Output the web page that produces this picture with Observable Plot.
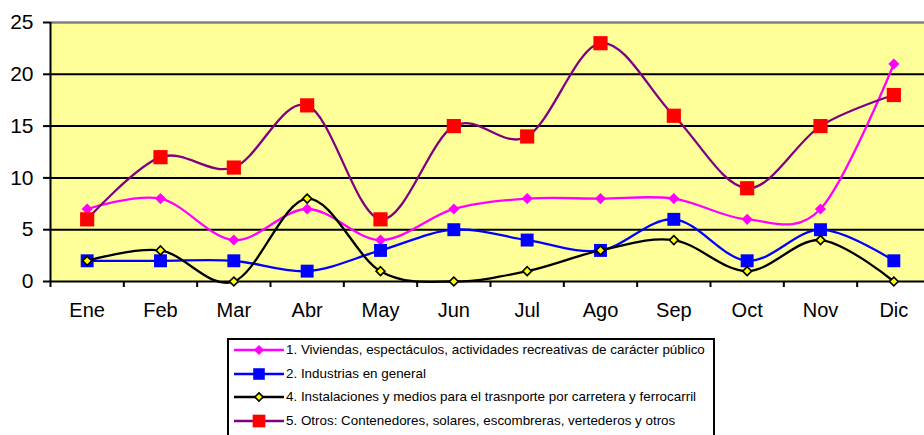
<!DOCTYPE html>
<html>
<head>
<meta charset="utf-8">
<script src="https://cdn.jsdelivr.net/npm/d3@7"></script>
<script src="https://cdn.jsdelivr.net/npm/@observablehq/plot@0.6"></script>
<style>
  html, body { margin: 0; padding: 0; background: #fff; overflow: hidden; }
  body { width: 924px; height: 435px; font-family: "Liberation Sans", Arial, sans-serif; }
  #chart svg { display: block; }
  #legend {
    position: absolute; left: 227px; top: 338px; width: 488px; height: 110px;
    border: 2px solid #000; box-sizing: border-box; background: #fff;
  }
  .row { position: absolute; left: 4px; height: 20px; display: flex; align-items: center; color: #000; white-space: nowrap; }
  .row svg { display: block; margin-right: 1px; flex: none; }
  .row span { font-family: "Liberation Sans", Arial, sans-serif; font-size: 13.4px; line-height: 20px; }
</style>
</head>
<body>
<div id="chart"></div>
<div id="legend"></div>
<script>
const months = ["Ene","Feb","Mar","Abr","May","Jun","Jul","Ago","Sep","Oct","Nov","Dic"];
const seriesNames = [
  "1. Viviendas, espectáculos, actividades recreativas de carácter público",
  "2. Industrias en general",
  "4. Instalaciones y medios para el trasnporte por carretera y ferrocarril",
  "5. Otros: Contenedores, solares, escombreras, vertederos y otros"
];
const viviendas    = [7, 8, 4, 7, 4, 7, 8, 8, 8, 6, 7, 21];
const industrias   = [2, 2, 2, 1, 3, 5, 4, 3, 6, 2, 5, 2];
const instalaciones= [2, 3, 0, 8, 1, 0, 1, 3, 4, 1, 4, 0];
const otros        = [6, 12, 11, 17, 6, 15, 14, 23, 16, 9, 15, 18];
const yTicks = [0, 5, 10, 15, 20, 25];

const styles = [
  {line: "#FF00FF", symbol: "diamond2", r: 5.0, fill: "#FF00FF", stroke: "none", sw: 0},
  {line: "#0000FF", symbol: "square",   r: 7.3, fill: "#0000FF", stroke: "none", sw: 0},
  {line: "#000000", symbol: "diamond2", r: 4.0, fill: "#FFFF00", stroke: "#000000", sw: 1.6},
  {line: "#800080", symbol: "square",   r: 8.0, fill: "#FF0000", stroke: "none", sw: 0}
];
const allSeries = [viviendas, industrias, instalaciones, otros];
const data = allSeries.map((vals, s) => months.map((m, i) => ({month: m, i: i + 0.5, value: vals[i], s})));

const marks = [
  Plot.frame({fill: "#FFFF99", stroke: "none"}),
  Plot.ruleY(yTicks.filter(d => d > 0 && d < 25), {stroke: "#000", strokeWidth: 2}),
  Plot.ruleY([25], {stroke: "#808080", strokeWidth: 2.5}),
  Plot.ruleY([0], {stroke: "#000", strokeWidth: 2}),
  Plot.ruleX([0], {stroke: "#000", strokeWidth: 2}),
  Plot.axisY({ticks: yTicks, label: null, tickSize: 7, tickPadding: 10, fontSize: 21, tickFormat: d => d, stroke: "#000", strokeWidth: 2}),
  Plot.axisX({ticks: d3.range(0, 13), label: null, tickSize: 6, tickFormat: () => "", stroke: "#000", strokeWidth: 2}),
  Plot.axisX({ticks: months.map((m, i) => i + 0.5), label: null, tickSize: 0, tickPadding: 21, fontSize: 20, tickFormat: d => months[Math.floor(d)]})
];
data.forEach((rows, s) => {
  const st = styles[s];
  marks.push(Plot.line(rows, {x: "i", y: "value", stroke: st.line, strokeWidth: 2.3, curve: "cardinal"}));
  marks.push(Plot.dot(rows, {x: "i", y: "value", symbol: () => st.symbol, r: st.r, fill: st.fill, stroke: st.stroke, strokeWidth: st.sw}));
});

const chart = Plot.plot({
  width: 924,
  height: 332,
  marginLeft: 50,
  marginRight: -6,
  marginTop: 22,
  marginBottom: 51,
  style: {fontFamily: "'Liberation Sans', Arial, sans-serif", color: "#000", background: "transparent", overflow: "visible"},
  x: {type: "linear", domain: [0, 12], axis: null, label: null},
  y: {domain: [0, 25], axis: null, label: null},
  symbol: {type: "identity"},
  marks
});
document.getElementById("chart").appendChild(chart);

// Legend
const legend = document.getElementById("legend");
const rowTops = [0, 24, 47, 71];
seriesNames.forEach((name, s) => {
  const st = styles[s];
  const row = document.createElement("div");
  row.className = "row";
  row.style.top = rowTops[s] + "px";
  const ns = "http://www.w3.org/2000/svg";
  const svg = document.createElementNS(ns, "svg");
  svg.setAttribute("width", 52); svg.setAttribute("height", 20);
  const ln = document.createElementNS(ns, "line");
  ln.setAttribute("x1", 1); ln.setAttribute("x2", 51); ln.setAttribute("y1", 10); ln.setAttribute("y2", 10);
  ln.setAttribute("stroke", st.line); ln.setAttribute("stroke-width", 2.3);
  svg.appendChild(ln);
  const sym = st.symbol === "square" ? d3.symbolSquare : d3.symbolDiamond2;
  const scale = s === 2 ? 0.85 : 0.8;
  const p = document.createElementNS(ns, "path");
  p.setAttribute("d", d3.symbol(sym, Math.PI * st.r * st.r * scale)());
  p.setAttribute("transform", "translate(26,10)");
  p.setAttribute("fill", st.fill);
  if (st.stroke !== "none") { p.setAttribute("stroke", st.stroke); p.setAttribute("stroke-width", st.sw); }
  svg.appendChild(p);
  row.appendChild(svg);
  const span = document.createElement("span");
  span.textContent = name;
  row.appendChild(span);
  legend.appendChild(row);
});
</script>
</body>
</html>
